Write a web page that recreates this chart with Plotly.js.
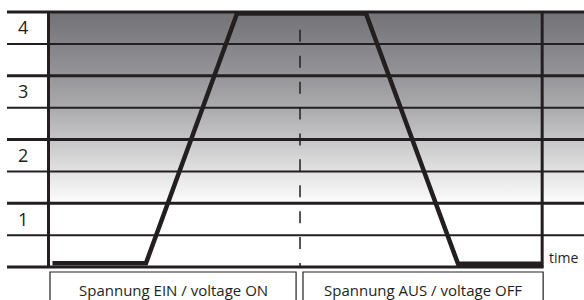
<!DOCTYPE html>
<html>
<head>
<meta charset="utf-8">
<script src="https://cdn.plot.ly/plotly-3.0.1.min.js"></script>
<style>html,body{margin:0;padding:0;background:#fff;}#chart{width:584px;height:300px;}</style>
</head>
<body>
<div id="chart"></div>
<script>
// ---- data ----
const timePoints   = [0.05, 1.95, 3.8, 6.42, 8.29, 10];
const levelValues  = [0.06, 0.06, 3.975, 3.975, 0.05, 0.05];
const levelLabels  = ['1', '2', '3', '4'];
const labelPositions = [0.75, 1.75, 2.75, 3.75];
const majorLevels  = [0, 1, 2, 3, 4];
const minorLevels  = [0.5, 1.5, 2.5, 3.5];
const switchTime   = 5.08;
const endTime      = 10;
const phaseLabels  = ['Spannung EIN / voltage ON', 'Spannung AUS / voltage OFF'];
const timeLabel    = 'time';

// ---- layout helpers ----
const xRange = [0, 10.85];
const yRange = [0, 4];
const ink = '#231f20';
const xp = v => (v - xRange[0]) / (xRange[1] - xRange[0]);
const yp = v => (v - yRange[0]) / (yRange[1] - yRange[0]);
const leftEdge = -43 / 534;

const shapes = [];
majorLevels.forEach(l => {
  shapes.push({type:'line', xref:'paper', yref:'paper', x0:leftEdge, x1: l === 0 ? xp(endTime + 0.03) : 1.01,
    y0:yp(l), y1:yp(l), line:{color:ink, width:3}});
});
minorLevels.forEach(l => {
  shapes.push({type:'line', xref:'paper', yref:'paper', x0:leftEdge, x1:1.01,
    y0:yp(l), y1:yp(l), line:{color:ink, width:2}});
});
// right boundary
shapes.push({type:'line', xref:'paper', yref:'paper', x0:xp(endTime), x1:xp(endTime),
  y0:yp(0), y1:yp(4), line:{color:ink, width:3}});
// switch-over dashed line
shapes.push({type:'line', xref:'paper', yref:'paper', x0:xp(switchTime), x1:xp(switchTime),
  y0:yp(3.72), y1:yp(0), line:{color:ink, width:1.5, dash:'12px,13.9px'}});
// phase boxes
const boxTop = -5 / 255, boxBottom = -0.2;
shapes.push({type:'rect', xref:'paper', yref:'paper', x0:xp(0), x1:xp(switchTime - 0.08),
  y0:boxBottom, y1:boxTop, line:{color:ink, width:1.2}});
shapes.push({type:'rect', xref:'paper', yref:'paper', x0:xp(switchTime + 0.06), x1:xp(endTime + 0.02),
  y0:boxBottom, y1:boxTop, line:{color:ink, width:1.2}});

const font = 'Open Sans, DejaVu Sans, sans-serif';
const annotations = [
  {xref:'paper', yref:'paper', x:(xp(0) + xp(switchTime - 0.08)) / 2, y:-23/255, text:phaseLabels[0],
   showarrow:false, xanchor:'center', yanchor:'middle', font:{family:font, size:15, color:ink}},
  {xref:'paper', yref:'paper', x:(xp(switchTime + 0.06) + xp(endTime + 0.02)) / 2, y:-23/255, text:phaseLabels[1],
   showarrow:false, xanchor:'center', yanchor:'middle', font:{family:font, size:15, color:ink}},
  {xref:'paper', yref:'paper', x:xp(endTime) + 5/534, y:10/255, text:timeLabel,
   showarrow:false, xanchor:'left', yanchor:'middle', font:{family:font, size:14, color:ink}}
];

const background = {
  x:[xRange[0], xRange[1], xRange[1], xRange[0], xRange[0]],
  y:[yRange[0], yRange[0], yRange[1], yRange[1], yRange[0]],
  mode:'none', fill:'toself', hoverinfo:'skip', showlegend:false,
  fillgradient:{type:'vertical', start:yRange[0], stop:yRange[1],
    colorscale:[[0,'#ffffff'],[0.25,'#ffffff'],[0.28,'#f6f6f6'],[0.37,'#e3e3e3'],[0.5,'#c6c6c8'],
                [0.625,'#ababae'],[0.75,'#96969a'],[0.88,'#838387'],[1,'#737377']]}
};

const profile = {
  x:timePoints, y:levelValues, mode:'lines', cliponaxis:false,
  line:{color:ink, width:4.5}, hoverinfo:'skip', showlegend:false
};

const layout = {
  width:584, height:300,
  margin:{l:50, r:0, t:12, b:33, pad:0},
  paper_bgcolor:'#ffffff', plot_bgcolor:'#ffffff',
  showlegend:false, hovermode:false,
  xaxis:{range:xRange, visible:false, fixedrange:true},
  yaxis:{range:yRange, showgrid:false, zeroline:false, showline:true, linewidth:3, linecolor:ink,
    tickmode:'array', tickvals:labelPositions, ticktext:levelLabels,
    ticks:'outside', ticklen:15, tickcolor:'rgba(0,0,0,0)',
    tickfont:{family:font, size:18, color:ink}, fixedrange:true},
  shapes:shapes, annotations:annotations
};

Plotly.newPlot('chart', [background, profile], layout, {displayModeBar:false, staticPlot:true});
</script>
</body>
</html>
